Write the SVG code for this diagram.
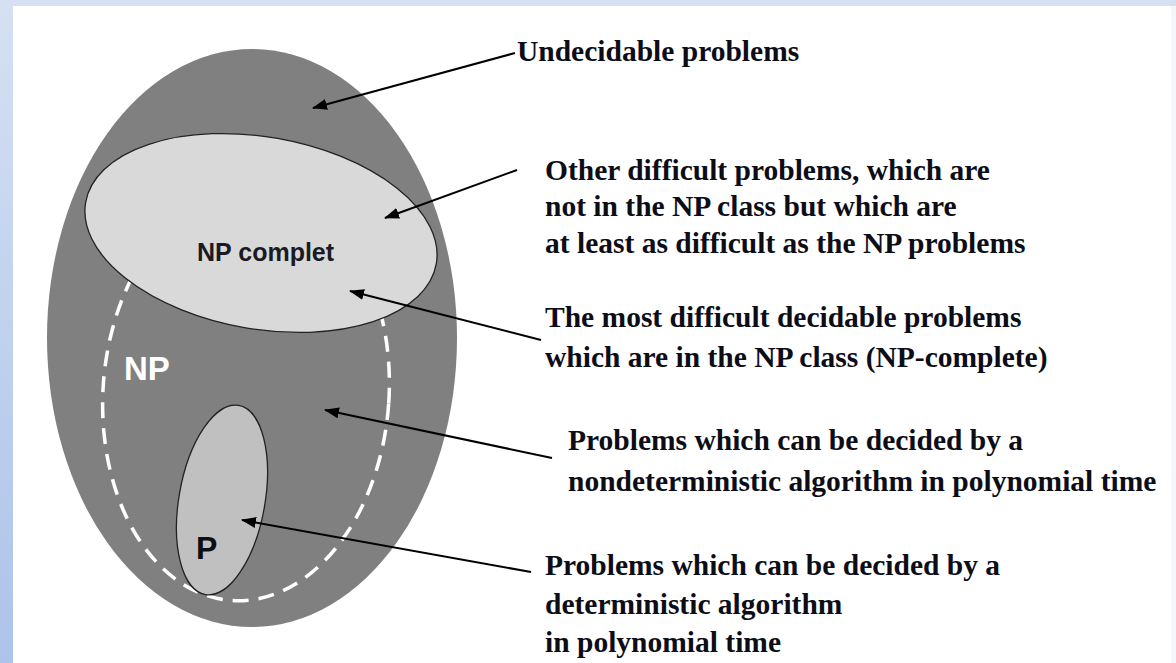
<svg xmlns="http://www.w3.org/2000/svg" width="1176" height="663" viewBox="0 0 1176 663">
  <defs>
    <linearGradient id="bg" x1="0" y1="0" x2="0" y2="1">
      <stop offset="0" stop-color="#d5e0f2"/>
      <stop offset="1" stop-color="#adc3e9"/>
    </linearGradient>
    <marker id="arrow" markerUnits="userSpaceOnUse" markerWidth="15" markerHeight="11" refX="14" refY="5.5" orient="auto">
      <path d="M0,0 L15,5.5 L0,11 z" fill="#000"/>
    </marker>
    <style>
      .lbl { font-family: "Liberation Serif", "Times New Roman", serif; font-weight: bold; font-size: 29.5px; fill: #0d0d18; }
      .inner { font-family: "Liberation Sans", Arial, sans-serif; font-weight: bold; }
      .conn { stroke: #000; stroke-width: 2; fill: none; marker-end: url(#arrow); }
    </style>
  </defs>

  <!-- background -->
  <rect x="0" y="0" width="1176" height="663" fill="url(#bg)"/>
  <rect x="0" y="0" width="1176" height="6" fill="#d5e0f2"/>
  <rect x="13" y="6" width="1163" height="657" fill="#f3f6fb"/>
  <rect x="13" y="6" width="1158" height="657" fill="#ffffff"/>

  <g id="undecidable">
    <ellipse cx="252" cy="338" rx="205" ry="289" fill="#808080"/>
  </g>

  <g id="np">
    <ellipse cx="246" cy="394" rx="143" ry="207" transform="rotate(4 246 394)" fill="none" stroke="#ffffff" stroke-width="3.5" stroke-dasharray="16 10"/>
    <text class="inner" x="124" y="380" font-size="33" fill="#ffffff">NP</text>
  </g>

  <g id="np-complete">
    <ellipse cx="261" cy="233" rx="178" ry="96" transform="rotate(10 261 233)" fill="#d9d9d9" stroke="#222" stroke-width="1.3"/>
    <text class="inner" x="197" y="261" font-size="25" fill="#1a1a22">NP complet</text>
  </g>

  <g id="p">
    <ellipse cx="222" cy="500" rx="43" ry="96" transform="rotate(10 222 500)" fill="#c0c0c0" stroke="#222" stroke-width="1.3"/>
    <text class="inner" x="196" y="559" font-size="32" fill="#0d0d14">P</text>
  </g>

  <g id="connectors">
    <line class="conn" x1="515" y1="53" x2="313" y2="108"/>
    <line class="conn" x1="517" y1="170" x2="385" y2="218"/>
    <line class="conn" x1="541" y1="340" x2="350" y2="291"/>
    <line class="conn" x1="552" y1="458" x2="325" y2="410"/>
    <line class="conn" x1="531" y1="572" x2="242" y2="520"/>
  </g>

  <g id="label-undecidable">
    <text class="lbl" x="517" y="61">Undecidable problems</text>
  </g>
  <g id="label-other">
    <text class="lbl" x="545" y="180">Other difficult problems, which are</text>
    <text class="lbl" x="545" y="216">not in the NP class but which are</text>
    <text class="lbl" x="545" y="253">at least as difficult as the NP problems</text>
  </g>
  <g id="label-npc">
    <text class="lbl" x="545" y="327">The most difficult decidable problems</text>
    <text class="lbl" x="545" y="367">which are in the NP class (NP-complete)</text>
  </g>
  <g id="label-np">
    <text class="lbl" x="568" y="450">Problems which can be decided by a</text>
    <text class="lbl" x="568" y="491">nondeterministic algorithm in polynomial time</text>
  </g>
  <g id="label-p">
    <text class="lbl" x="545" y="575">Problems which can be decided by a</text>
    <text class="lbl" x="545" y="614">deterministic algorithm</text>
    <text class="lbl" x="545" y="652">in polynomial time</text>
  </g>
</svg>
